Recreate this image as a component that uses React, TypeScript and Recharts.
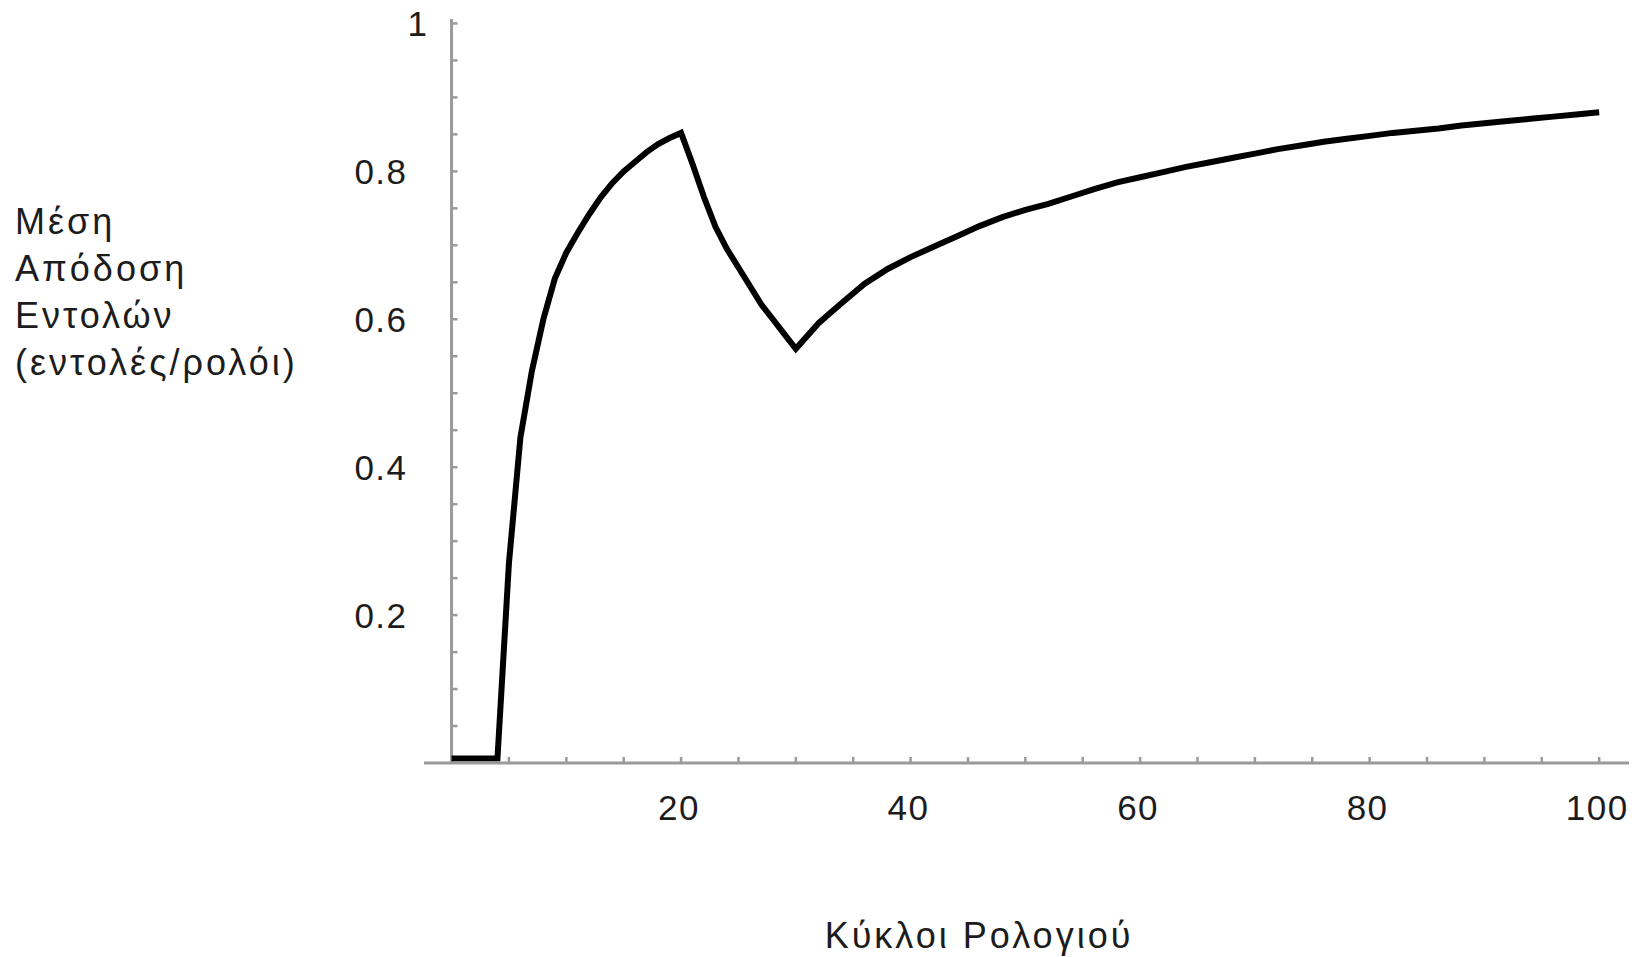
import React from 'react';
import { LineChart, Line, XAxis, YAxis, ReferenceLine } from 'recharts';

// clock cycles and average instruction throughput (instructions / cycle)
const cycles = [
  0, 1, 2, 3, 4, 5, 6, 7, 8, 9, 10, 11, 12, 13, 14, 15, 16, 17, 18, 19, 20,
  21, 22, 23, 24, 25, 26, 27, 28, 29, 30,
  32, 34, 36, 38, 40, 42, 44, 46, 48, 50, 52, 54, 56, 58, 60, 62, 64, 66, 68, 70,
  72, 74, 76, 78, 80, 82, 84, 86, 88, 90, 92, 94, 96, 98, 100,
];
const throughput = [
  0.006, 0.006, 0.006, 0.006, 0.006, 0.27, 0.44, 0.53, 0.6, 0.655, 0.69, 0.717, 0.742,
  0.765, 0.784, 0.8, 0.813, 0.826, 0.837, 0.845, 0.852,
  0.81, 0.765, 0.725, 0.695, 0.67, 0.645, 0.62, 0.6, 0.58, 0.56,
  0.595, 0.622, 0.648, 0.668, 0.684, 0.698, 0.712, 0.726, 0.738, 0.748, 0.756, 0.766,
  0.776, 0.785, 0.792, 0.799, 0.806, 0.812, 0.818, 0.824, 0.83, 0.835, 0.84, 0.844,
  0.848, 0.852, 0.855, 0.858, 0.862, 0.865, 0.868, 0.871, 0.874, 0.877, 0.88,
];

const xTicks = [5, 10, 15, 20, 25, 30, 35, 40, 45, 50, 55, 60, 65, 70, 75, 80, 85, 90, 95, 100];
const xTickLabels = [20, 40, 60, 80, 100];
const yTicks = [
  0.05, 0.1, 0.15, 0.2, 0.25, 0.3, 0.35, 0.4, 0.45, 0.5,
  0.55, 0.6, 0.65, 0.7, 0.75, 0.8, 0.85, 0.9, 0.95, 1,
];
const yTickLabels = [0.2, 0.4, 0.6, 0.8, 1];

const yTitle = ['Μέση', 'Απόδοση', 'Εντολών', '(εντολές/ρολόι)'];
const xTitle = 'Κύκλοι Ρολογιού';

const data = cycles.map((c, i) => ({ cycle: c, value: throughput[i] }));

const X_MIN = -2.4;
const X_MAX = 102.6;
const Y_MAX = 1.006;
const WIDTH = 1639;
const HEIGHT = 957;
const X_AXIS_H = 100;
const Y_AXIS_W = 100;
const MARGIN = { top: 19, right: 10, bottom: 194 - X_AXIS_H, left: 424 - Y_AXIS_W };
const PLOT_W = WIDTH - 424 - MARGIN.right;
// distance from plot left edge to x = 0 (where the y axis sits)
const Y_AXIS_OFFSET = ((0 - X_MIN) / (X_MAX - X_MIN)) * PLOT_W;

const AXIS = '#9a9a9a';
const FONT = '"Liberation Sans", Arial, Helvetica, sans-serif';
const TEXT = '#1c1c1c';

const isLabel = (list: number[], v: number) => list.some((l) => Math.abs(l - v) < 1e-6);

const XTick = (props: any) => {
  const { x, y, payload } = props;
  return (
    <g>
      <line x1={x} x2={x} y1={y} y2={y - 6} stroke={AXIS} strokeWidth={2.5} />
      {isLabel(xTickLabels, payload.value) && (
        <text
          x={x - 2}
          y={y + 57}
          textAnchor="middle"
          fontFamily={FONT}
          fontSize={35}
          letterSpacing={1.5}
          fill={TEXT}
        >
          {payload.value}
        </text>
      )}
    </g>
  );
};

const YTick = (props: any) => {
  const { x, y, payload } = props;
  const ax = x + Y_AXIS_OFFSET;
  const v = payload.value;
  return (
    <g>
      <line x1={ax} x2={ax + 6} y1={y} y2={y} stroke={AXIS} strokeWidth={2.5} />
      {isLabel(yTickLabels, v) && (
        <text
          x={v === 1 ? ax - 23 : ax - 44}
          y={y + 13}
          textAnchor="end"
          fontFamily={FONT}
          fontSize={35}
          letterSpacing={1.5}
          fill={TEXT}
        >
          {String(Math.round(v * 10) / 10)}
        </text>
      )}
    </g>
  );
};

export default function App() {
  return (
    <div style={{ position: 'absolute', left: 0, top: 0, width: WIDTH, height: HEIGHT, background: '#fff' }}>
      <LineChart width={WIDTH} height={HEIGHT} data={data} margin={MARGIN}>
        <XAxis
          dataKey="cycle"
          type="number"
          domain={[X_MIN, X_MAX]}
          ticks={xTicks}
          height={X_AXIS_H}
          tickSize={0}
          tickMargin={0}
          tickLine={false}
          tick={<XTick />}
          axisLine={{ stroke: AXIS, strokeWidth: 3 }}
          interval={0}
          allowDataOverflow
        />
        <YAxis
          type="number"
          domain={[0, Y_MAX]}
          ticks={yTicks}
          width={Y_AXIS_W}
          tickSize={0}
          tickMargin={0}
          tickLine={false}
          axisLine={false}
          tick={<YTick />}
          interval={0}
          allowDataOverflow
        />
        <ReferenceLine x={0} stroke={AXIS} strokeWidth={3} />
        <Line
          type="linear"
          dataKey="value"
          stroke="#000"
          strokeWidth={6}
          strokeLinejoin="miter"
          dot={false}
          activeDot={false}
          isAnimationActive={false}
        />
      </LineChart>
      <div
        style={{
          position: 'absolute',
          left: 15,
          top: 198,
          fontFamily: FONT,
          fontSize: 36,
          lineHeight: '47px',
          letterSpacing: 3,
          color: TEXT,
          whiteSpace: 'nowrap',
        }}
      >
        {yTitle.map((t) => (
          <div key={t}>{t}</div>
        ))}
      </div>
      <div
        style={{
          position: 'absolute',
          left: 679,
          width: 600,
          top: 912,
          textAlign: 'center',
          fontFamily: FONT,
          fontSize: 36,
          lineHeight: '47px',
          letterSpacing: 3,
          color: TEXT,
          whiteSpace: 'nowrap',
        }}
      >
        {xTitle}
      </div>
    </div>
  );
}
